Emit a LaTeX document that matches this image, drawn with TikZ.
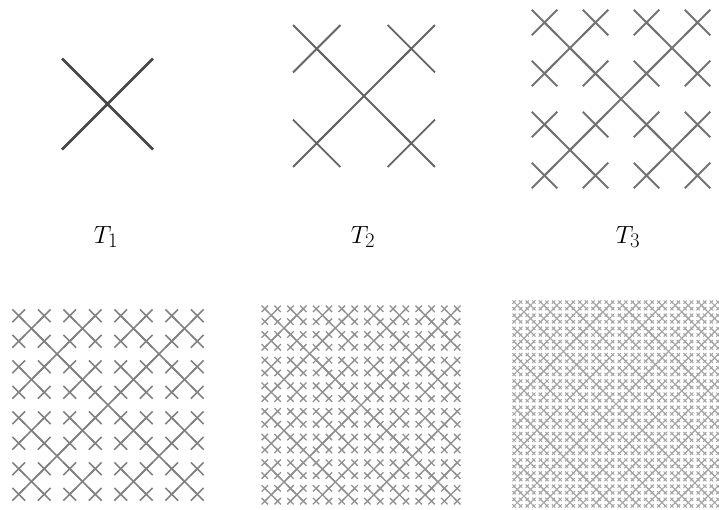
\documentclass[tikz,border=0pt]{standalone}
\usepackage{tikz}
\makeatletter
\newcommand\xtree[4]{%
  \ifnum#4>0
    \draw ({#1-#3},{#2-#3}) -- ({#1+#3},{#2+#3}) ({#1-#3},{#2+#3}) -- ({#1+#3},{#2-#3});%
    \begingroup
      \pgfmathsetmacro\xtd{#3/2}%
      \pgfmathsetmacro\xtl{#1-#3}\pgfmathsetmacro\xtr{#1+#3}%
      \pgfmathsetmacro\xtt{#2-#3}\pgfmathsetmacro\xtb{#2+#3}%
      \edef\xtn{\the\numexpr#4-1\relax}%
      \edef\xtnext{%
        \noexpand\xtree{\xtl}{\xtt}{\xtd}{\xtn}%
        \noexpand\xtree{\xtr}{\xtt}{\xtd}{\xtn}%
        \noexpand\xtree{\xtl}{\xtb}{\xtd}{\xtn}%
        \noexpand\xtree{\xtr}{\xtb}{\xtd}{\xtn}}%
      \xtnext
    \endgroup
  \fi}
\makeatother
\begin{document}
\begin{tikzpicture}[x=1pt,y=-1pt,
  lbl/.style={font=\fontsize{28}{30}\selectfont, anchor=base, inner sep=0pt}]
\useasboundingbox (0,0) rectangle (719,509);
\fill[white] (0,0) rectangle (719,509);
\begin{scope}[draw={rgb,255:red,70;green,70;blue,70}, line width=2.6pt]
  \xtree{107.5}{104}{45.5}{1}
\end{scope}
\begin{scope}[draw={rgb,255:red,100;green,100;blue,100}, line width=1.9pt]
  \xtree{364}{96}{47.3}{2}
\end{scope}
\begin{scope}[draw={rgb,255:red,115;green,115;blue,115}, line width=1.8pt]
  \xtree{621}{99}{51}{3}
\end{scope}
\begin{scope}[draw={rgb,255:red,130;green,130;blue,130}, line width=1.6pt]
  \xtree{108}{405}{51}{4}
\end{scope}
\begin{scope}[draw={rgb,255:red,145;green,145;blue,145}, line width=1.3pt]
  \xtree{361}{405}{51.3}{5}
\end{scope}
\begin{scope}[draw={rgb,255:red,165;green,165;blue,165}, line width=1.0pt]
  \xtree{616}{404}{52.6}{6}
\end{scope}
\node[lbl] (t1) at (106,243) {$T_1$};
\node[lbl] (t2) at (363,243) {$T_2$};
\node[lbl] (t3) at (628,243) {$T_3$};
\end{tikzpicture}
\end{document}
